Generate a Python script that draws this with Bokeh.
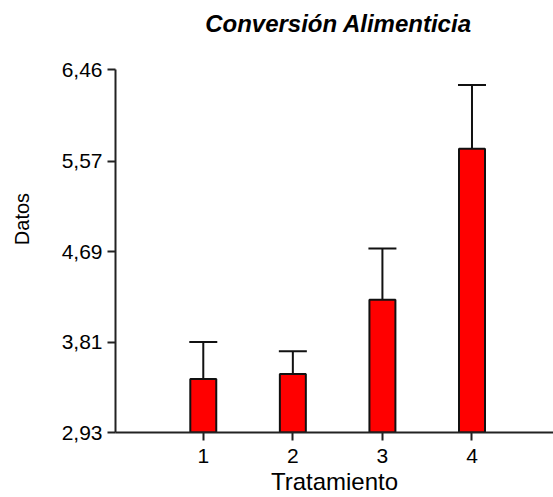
from bokeh.plotting import figure
from bokeh.models import ColumnDataSource, Whisker, TeeHead, FixedTicker, Range1d, Label
from bokeh.embed import file_html
from bokeh.resources import INLINE

treatments = [1, 2, 3, 4]
means = [3.45, 3.50, 4.22, 5.69]
errors = [0.36, 0.22, 0.50, 0.62]
y_ticks = [2.93, 3.81, 4.69, 5.57, 6.46]
y_tick_labels = ["2,93", "3,81", "4,69", "5,57", "6,46"]
x_tick_labels = ["1", "2", "3", "4"]
title_text = "Conversión Alimenticia"
x_label = "Tratamiento"
y_label = "Datos"

upper = [m + e for m, e in zip(means, errors)]
src = ColumnDataSource(dict(x=treatments, top=means, upper=upper))

# layout (pixels): frame from y=5 to y=432, axis spans ticks from 69 to 432
frame_top, axis_top, frame_bottom = 5, 69, 432
y_span = y_ticks[-1] - y_ticks[0]
y_end = y_ticks[0] + y_span * (frame_bottom - frame_top) / (frame_bottom - axis_top)

p = figure(width=553, height=497, output_backend="svg", toolbar_location=None,
           x_range=Range1d(0.02, 4.91), y_range=Range1d(y_ticks[0], y_end),
           min_border_left=115, min_border_right=0, min_border_top=frame_top,
           min_border_bottom=497 - frame_bottom)
p.outline_line_color = None
p.xgrid.visible = False
p.ygrid.visible = False
p.background_fill_color = "white"
p.border_fill_color = "white"

p.vbar(x="x", top="top", bottom=y_ticks[0], width=0.29, source=src,
       fill_color="#ff0000", line_color="#111111", line_width=2)

w = Whisker(source=src, base="x", lower="top", upper="upper", dimension="height",
            line_color="#111111", line_width=2, lower_head=None,
            upper_head=TeeHead(size=28, line_color="#111111", line_width=2))
p.add_layout(w)

# chart title, placed inside the (taller) frame, in screen units from frame bottom-left
title = Label(x=223, y=frame_bottom - 23, x_units="screen", y_units="screen", text=title_text,
              text_font="Liberation Sans", text_font_style="bold italic",
              text_font_size="24px", text_color="#000000",
              text_align="center", text_baseline="alphabetic")
p.add_layout(title)

for ax in (p.xaxis[0], p.yaxis[0]):
    ax.axis_line_width = 2
    ax.axis_line_color = "#222222"
    ax.major_tick_line_width = 2
    ax.major_tick_line_color = "#222222"
    ax.major_tick_out = 8
    ax.major_tick_in = 0
    ax.minor_tick_out = 0
    ax.minor_tick_in = 0
    ax.major_label_text_font = "Liberation Sans"
    ax.major_label_text_font_size = "21px"
    ax.major_label_text_color = "#000000"
    ax.axis_label_text_font = "Liberation Sans"
    ax.axis_label_text_font_style = "normal"
    ax.axis_label_text_color = "#000000"

p.xaxis[0].ticker = FixedTicker(ticks=treatments)
p.xaxis[0].major_label_overrides = {t: l for t, l in zip(treatments, x_tick_labels)}
p.xaxis[0].axis_label = x_label
p.xaxis[0].axis_label_text_font_size = "24px"
p.xaxis[0].major_label_standoff = 8
p.xaxis[0].axis_label_standoff = 2

p.yaxis[0].ticker = FixedTicker(ticks=y_ticks)
p.yaxis[0].bounds = (y_ticks[0], y_ticks[-1])
p.yaxis[0].major_label_overrides = {t: l for t, l in zip(y_ticks, y_tick_labels)}
p.yaxis[0].axis_label = y_label
p.yaxis[0].axis_label_text_font_size = "20px"
p.yaxis[0].axis_label_text_align = "right"
p.yaxis[0].major_label_standoff = 5
p.yaxis[0].axis_label_standoff = 26

open("out.html", "w").write(file_html(p, INLINE))
